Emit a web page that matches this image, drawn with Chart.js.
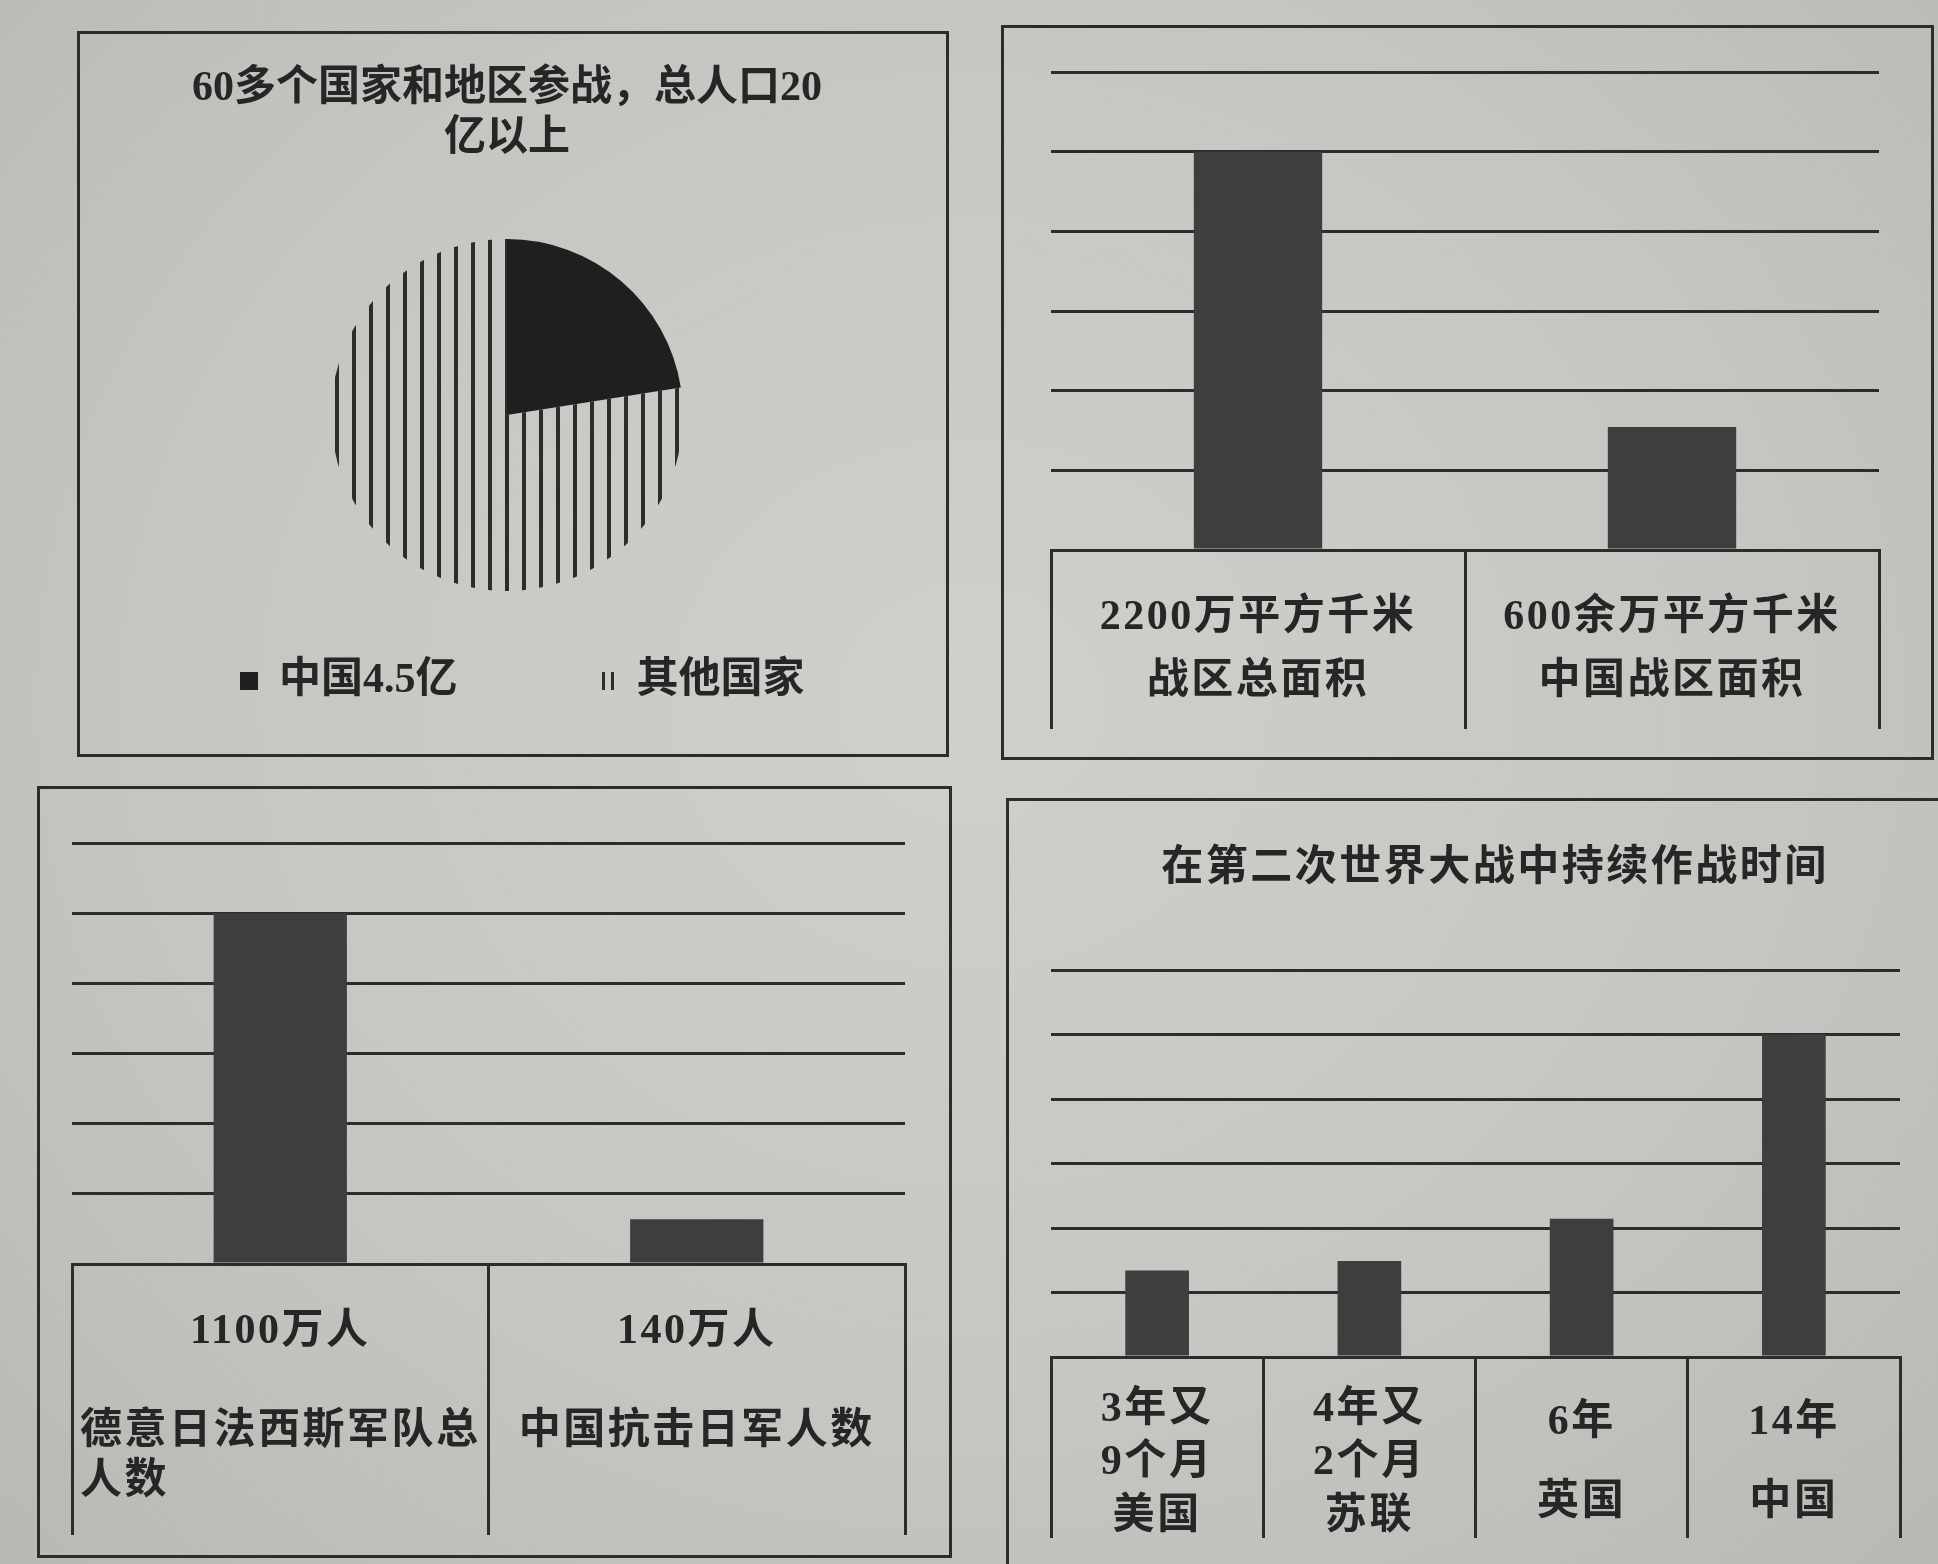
<!DOCTYPE html>
<html lang="zh">
<head>
<meta charset="utf-8">
<title>第二次世界大战中的中国战场</title>
<script src="https://cdn.jsdelivr.net/npm/chart.js@4.4.1/dist/chart.umd.min.js"></script>
<style>
  html, body { margin: 0; padding: 0; }
  body {
    width: 1938px; height: 1564px; overflow: hidden; position: relative;
    background: radial-gradient(ellipse at 50% 45%, #d0cfcc 0%, #c6c5c2 60%, #b9b8b5 100%);
  }
  .panel { position: absolute; box-sizing: border-box; border: 3px solid #2c2c2c; }
  .panel canvas { position: absolute; left: 0; top: 0; }
</style>
</head>
<body>
<div class="panel" style="left:77px;top:31px;width:872px;height:726px"><canvas id="popChart" width="866" height="720"></canvas></div>
<div class="panel" style="left:1001px;top:25px;width:933px;height:735px"><canvas id="areaChart" width="927" height="729"></canvas></div>
<div class="panel" style="left:37px;top:786px;width:915px;height:772px"><canvas id="troopChart" width="909" height="766"></canvas></div>
<div class="panel" style="left:1006px;top:798px;width:960px;height:800px"><canvas id="warChart" width="929" height="763"></canvas></div>

<script>
// Data
const popTitle = ["60多个国家和地区参战，总人口20", "亿以上"];
const popLabels = ["中国4.5亿", "其他国家"];
const popValues = [4.5, 15.5];

const areaLabels = [["2200万平方千米", "战区总面积"], ["600余万平方千米", "中国战区面积"]];
const areaValues = [2200, 680];
const areaStep = 440;

const troopLabels = [["1100万人", "", "德意日法西斯军队总", "人数　　　　　　　"], ["140万人", "", "中国抗击日军人数"]];
const troopValues = [1100, 140];
const troopStep = 220;

// empty entries are quarter-line spacers
const warTitle = "在第二次世界大战中持续作战时间";
const warLabels = [
    ["3年又", "", "", "", "9个月", "", "", "", "美国"],
    ["4年又", "", "", "", "2个月", "", "", "", "苏联"],
    ["", "6年", "", "", "", "", "", "英国"],
    ["", "14年", "", "", "", "", "", "中国"]
];
const warYears = [3.75, 4.17, 6, 14];
const warStep = 2.8;

// Styles
const LINE = "#2c2c2c";
const BAR = "#3e3e3e";
const TEXT = "#262626";
const FONT = { size: 42, weight: "bold" };

Chart.defaults.font.family = "'Liberation Serif', 'Noto Sans CJK SC', serif";
Chart.defaults.color = TEXT;

// vertical stripe fill for the "other" slice
function makeHatch(ctx, gap, width) {
    const c = document.createElement("canvas");
    c.width = gap; c.height = 8;
    const g = c.getContext("2d");
    g.fillStyle = LINE;
    g.fillRect(0, 0, width, 8);
    return ctx.createPattern(c, "repeat");
}

// printed text is a bit spaced out
const letterSpacing = px => ({
    id: "letterSpacing",
    beforeDraw(chart) { chart.ctx.letterSpacing = px; }
});

// 1. Pie
const popCtx = document.getElementById("popChart").getContext("2d");
const hatch = makeHatch(popCtx, 17, 4);
const hatchSmall = makeHatch(popCtx, 9, 3);

new Chart(popCtx, {
    type: "pie",
    data: {
        labels: popLabels,
        datasets: [{ data: popValues, backgroundColor: ["#1f1f1f", hatch], borderWidth: 0 }]
    },
    options: {
        responsive: false, animation: false, events: [],
        radius: 176,
        layout: { padding: { left: 0, right: 12, top: 0, bottom: 42 } },
        plugins: {
            tooltip: { enabled: false },
            title: {
                display: true, text: popTitle, color: TEXT,
                font: { ...FONT, lineHeight: "50px" },
                padding: { top: 30, bottom: 20 }
            },
            legend: {
                position: "bottom",
                align: "end",
                labels: {
                    boxWidth: 18, boxHeight: 18, padding: 14, color: TEXT, font: FONT,
                    generateLabels(chart) {
                        const items = Chart.overrides.doughnut.plugins.legend.labels.generateLabels(chart);
                        items[0].text += "　　　";
                        items[1].text += "           ";
                        items[1].fillStyle = hatchSmall;
                        items.forEach(it => { it.lineWidth = 0; it.strokeStyle = "rgba(0,0,0,0)"; });
                        return items;
                    }
                }
            }
        }
    }
});

// 2-4. Bars sitting on a label table
function barChart(id, labels, values, step, cfg) {
    return new Chart(document.getElementById(id), {
        type: "bar",
        data: {
            labels: labels,
            datasets: [{ data: values, backgroundColor: BAR, barPercentage: cfg.bar, categoryPercentage: 1 }]
        },
        options: {
            responsive: false, animation: false, events: [],
            layout: { padding: cfg.pad },
            plugins: {
                legend: { display: false },
                tooltip: { enabled: false },
                title: cfg.title || { display: false }
            },
            scales: {
                x: {
                    grid: { offset: true, drawOnChartArea: false, tickLength: cfg.table, color: LINE, lineWidth: 3 },
                    border: { display: true, color: LINE, width: 3 },
                    ticks: { padding: cfg.textPad, color: TEXT, font: { ...FONT, lineHeight: cfg.lh }, maxRotation: 0, autoSkip: false },
                    afterFit: s => { s.height = cfg.table; }
                },
                y: {
                    min: 0, max: step * 6,
                    ticks: { display: false, stepSize: step },
                    grid: { drawTicks: false, color: LINE, lineWidth: 3 },
                    border: { display: false },
                    afterFit: s => { s.width = 0; }
                }
            }
        },
        plugins: [letterSpacing("2.5px")]
    });
}

barChart("areaChart", areaLabels, areaValues, areaStep, {
    bar: 0.31, table: 179, textPad: -143, lh: "64px",
    pad: { left: 47, right: 52, top: 44, bottom: 28 }
});

barChart("troopChart", troopLabels, troopValues, troopStep, {
    bar: 0.32, table: 271, textPad: -228, lh: "50px",
    pad: { left: 32, right: 44, top: 54, bottom: 20 }
});

// leading spaces nudge the centred title a little to the right, as printed
barChart("warChart", warLabels, warYears, warStep, {
    bar: 0.30, table: 181, textPad: -135, lh: "13.4px",
    pad: { left: 42, right: 38, top: 0, bottom: 26 },
    title: {
        display: true, text: "   " + warTitle, color: TEXT,
        font: { ...FONT, lineHeight: "46px" },
        padding: { top: 45, bottom: 78 }
    }
});
</script>
</body>
</html>
